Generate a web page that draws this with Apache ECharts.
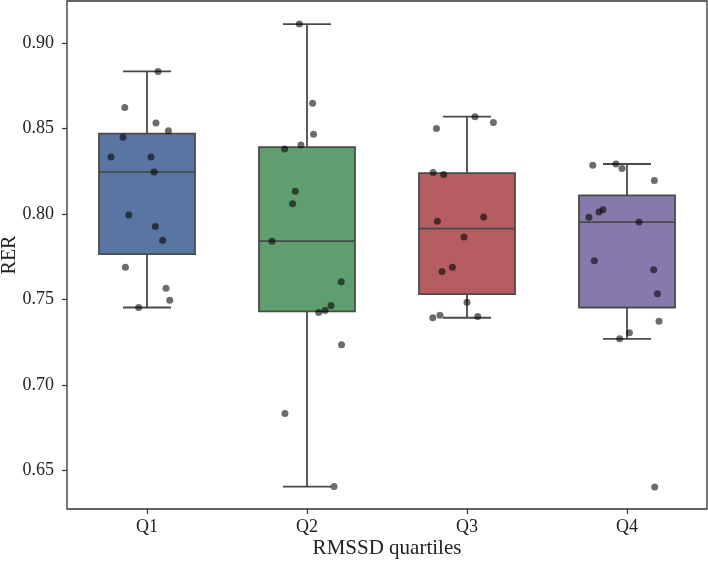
<!DOCTYPE html>
<html>
<head>
<meta charset="utf-8">
<script src="https://cdn.jsdelivr.net/npm/echarts@6/dist/echarts.min.js"></script>
<style>html,body{margin:0;padding:0;background:#fff}#c{width:708px;height:562px}</style>
</head>
<body>
<div id="c"></div>
<script>
const categories = ['Q1', 'Q2', 'Q3', 'Q4'];
const boxColors = ['#5875A4', '#5F9E6E', '#B55D60', '#857AAB'];
// [lower whisker, Q1, median, Q3, upper whisker]
const boxStats = [
  [0.7453, 0.7765, 0.8245, 0.8470, 0.8833],
  [0.6406, 0.7430, 0.7841, 0.8391, 0.9110],
  [0.7393, 0.7531, 0.7914, 0.8239, 0.8569],
  [0.7270, 0.7453, 0.7952, 0.8109, 0.8292]
];
const q1Values = [0.8833, 0.8622, 0.8532, 0.8487, 0.8448, 0.8333, 0.8333, 0.8245, 0.7994, 0.7926, 0.7846, 0.7688, 0.7565, 0.7496, 0.7453];
const q1Jitter = [0.069, -0.139, 0.056, 0.134, -0.150, -0.225, 0.025, 0.044, -0.114, 0.052, 0.098, -0.135, 0.119, 0.142, -0.052];
const q2Values = [0.9110, 0.8647, 0.8466, 0.8403, 0.8380, 0.8132, 0.8060, 0.7841, 0.7603, 0.7465, 0.7436, 0.7424, 0.7235, 0.6833, 0.6406];
const q2Jitter = [-0.048, 0.035, 0.041, -0.038, -0.140, -0.073, -0.090, -0.219, 0.214, 0.150, 0.113, 0.073, 0.216, -0.138, 0.169];
const q3Values = [0.8569, 0.8534, 0.8499, 0.8242, 0.8230, 0.7982, 0.7957, 0.7865, 0.7689, 0.7664, 0.7484, 0.7408, 0.7400, 0.7393];
const q3Jitter = [0.050, 0.165, -0.191, -0.212, -0.146, 0.104, -0.185, -0.019, -0.091, -0.156, 0.000, -0.169, 0.067, -0.214];
const q4Values = [0.8284, 0.8292, 0.8265, 0.8195, 0.8025, 0.8011, 0.7980, 0.7953, 0.7726, 0.7674, 0.7533, 0.7373, 0.7305, 0.7270, 0.6404];
const q4Jitter = [-0.214, -0.069, -0.031, 0.171, -0.150, -0.175, -0.238, 0.075, -0.204, 0.167, 0.190, 0.200, 0.015, -0.046, 0.173];
const yTicks = [0.65, 0.70, 0.75, 0.80, 0.85, 0.90];
const yMin = 0.6275, yMax = 0.9245;

const groups = [[q1Values, q1Jitter], [q2Values, q2Jitter], [q3Values, q3Jitter], [q4Values, q4Jitter]];
const pointData = [];
groups.forEach(function (g, i) {
  g[0].forEach(function (v, k) { pointData.push([i + g[1][k], v]); });
});
const boxData = boxStats.map(function (s, i) { return [i].concat(s); });

const font = 'Liberation Serif, Times New Roman, serif';
const lineColor = '#4a4a4a';
const chart = echarts.init(document.getElementById('c'), null, {renderer: 'canvas'});
chart.setOption({
  animation: false,
  backgroundColor: '#fff',
  grid: {left: 67, top: 1, width: 640, height: 508, containLabel: false, outerBoundsMode: 'none',
    show: true, borderColor: '#333', borderWidth: 1.3, backgroundColor: 'transparent'},
  xAxis: [{
    type: 'category', data: categories, boundaryGap: true,
    name: 'RMSSD quartiles', nameLocation: 'middle', nameGap: 29, nameMoveOverlap: false,
    nameTextStyle: {fontFamily: font, fontSize: 21, color: '#222'},
    axisLine: {show: false, onZero: false},
    axisTick: {show: true, alignWithLabel: true, length: 5, lineStyle: {color: '#333', width: 1.2}},
    axisLabel: {fontFamily: font, fontSize: 18, color: '#222', margin: 9},
    splitLine: {show: false}
  }, {
    type: 'value', min: -0.5, max: 3.5, show: false
  }],
  yAxis: {
    type: 'value', min: yMin, max: yMax, position: 'left',
    name: 'RER', nameLocation: 'middle', nameGap: 47, nameRotate: 90, nameMoveOverlap: false,
    nameTextStyle: {fontFamily: font, fontSize: 20, color: '#222'},
    axisLine: {show: false, onZero: false},
    axisTick: {show: true, length: 5, customValues: yTicks, lineStyle: {color: '#333', width: 1.2}},
    axisLabel: {fontFamily: font, fontSize: 18, color: '#222', margin: 13, customValues: yTicks,
      formatter: function (v) { return v.toFixed(2); }},
    splitLine: {show: false}
  },
  series: [{
    type: 'custom',
    xAxisIndex: 0,
    data: boxData,
    encode: {x: 0, y: [1, 2, 3, 4, 5]},
    renderItem: function (params, api) {
      const i = api.value(0);
      const lo = api.value(1), q1 = api.value(2), med = api.value(3), q3 = api.value(4), hi = api.value(5);
      const bw = api.size([1, 0])[0] * 0.6;
      const x = api.coord([i, med])[0];
      const yLo = api.coord([i, lo])[1], yQ1 = api.coord([i, q1])[1], yMed = api.coord([i, med])[1];
      const yQ3 = api.coord([i, q3])[1], yHi = api.coord([i, hi])[1];
      const st = {stroke: lineColor, lineWidth: 1.8, fill: null};
      return {
        type: 'group',
        children: [
          {type: 'line', shape: {x1: x, y1: yQ1, x2: x, y2: yLo}, style: st},
          {type: 'line', shape: {x1: x, y1: yQ3, x2: x, y2: yHi}, style: st},
          {type: 'line', shape: {x1: x - bw / 4, y1: yLo, x2: x + bw / 4, y2: yLo}, style: st},
          {type: 'line', shape: {x1: x - bw / 4, y1: yHi, x2: x + bw / 4, y2: yHi}, style: st},
          {type: 'rect', shape: {x: x - bw / 2, y: yQ3, width: bw, height: yQ1 - yQ3},
            style: {fill: boxColors[i], stroke: lineColor, lineWidth: 1.8}},
          {type: 'line', shape: {x1: x - bw / 2, y1: yMed, x2: x + bw / 2, y2: yMed}, style: st}
        ]
      };
    },
    z: 2
  }, {
    type: 'scatter',
    xAxisIndex: 1,
    data: pointData,
    symbol: 'circle',
    symbolSize: 7,
    itemStyle: {color: 'rgba(0,0,0,0.72)'},
    z: 5
  }]
});
</script>
</body>
</html>
